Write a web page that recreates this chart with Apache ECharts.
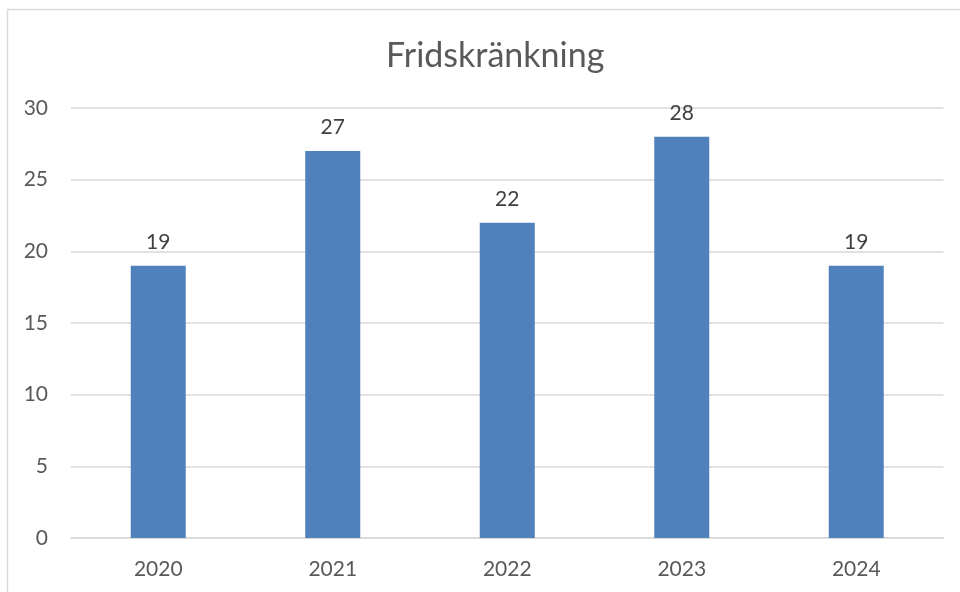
<!DOCTYPE html>
<html>
<head>
<meta charset="utf-8">
<script src="https://cdn.jsdelivr.net/npm/echarts@6/dist/echarts.min.js"></script>
<style>html,body{margin:0;padding:0;background:#fff}#c{width:960px;height:592px}</style>
</head>
<body>
<div id="c"></div>
<script>
const title = 'Fridskränkning';
const categories = ['2020', '2021', '2022', '2023', '2024'];
const values = [19, 27, 22, 28, 19];
const yTicks = [0, 5, 10, 15, 20, 25, 30];

const font = 'Lato, "Open Sans", sans-serif';
const chart = echarts.init(document.getElementById('c'), null, {renderer: 'canvas'});
chart.setOption({
  animation: false,
  backgroundColor: '#fff',
  title: {
    text: title, left: 381, top: 34,
    textStyle: {fontFamily: font, fontSize: 34, fontWeight: 'normal', color: '#595959'}
  },
  graphic: [{
    type: 'rect', silent: true,
    shape: {x: 7.5, y: 9.5, width: 1000, height: 1000},
    style: {fill: 'none', stroke: '#d9d9d9', lineWidth: 1.5}
  }],
  grid: {left: 71, right: 16.5, top: 108, bottom: 54, containLabel: false},
  xAxis: {
    type: 'category', data: categories,
    axisLine: {show: true, lineStyle: {color: '#d9d9d9', width: 1.5}},
    axisTick: {show: false},
    axisLabel: {fontFamily: font, fontSize: 21, color: '#595959', margin: 21}
  },
  yAxis: {
    type: 'value', min: yTicks[0], max: yTicks[yTicks.length - 1], interval: 5,
    axisLine: {show: false}, axisTick: {show: false},
    splitLine: {lineStyle: {color: '#d9d9d9', width: 1.5}},
    axisLabel: {fontFamily: font, fontSize: 21, color: '#595959', margin: 23}
  },
  series: [{
    type: 'bar', data: values, barWidth: 55,
    itemStyle: {color: '#4f81bd'},
    label: {show: true, position: 'top', distance: 13, fontFamily: font, fontSize: 21, color: '#404040'}
  }]
});
</script>
</body>
</html>
